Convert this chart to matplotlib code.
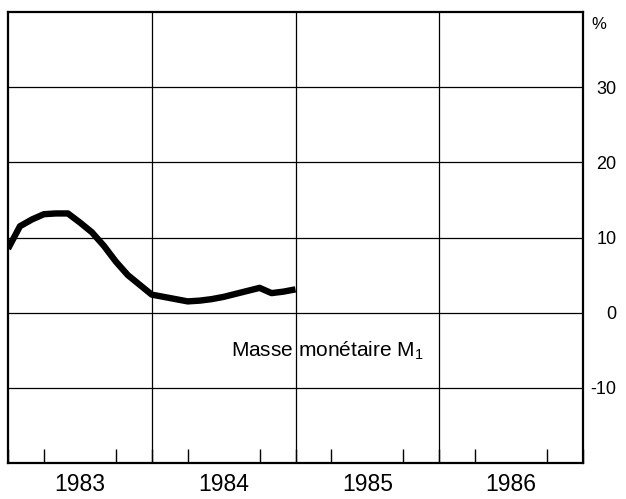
import matplotlib
matplotlib.use("Agg")
import matplotlib.pyplot as plt
import matplotlib.transforms as mtransforms
import numpy as np

plt.rcParams['font.family'] = ['Liberation Sans', 'DejaVu Sans']
plt.rcParams['mathtext.fontset'] = 'custom'
plt.rcParams['mathtext.rm'] = 'Liberation Sans'

# Data: monthly growth of money supply M1 (%), Jan 1983 .. Jan 1985
months = 1983 + np.arange(25) / 12.0
m1 = [8.5, 11.5, 12.4, 13.1, 13.2, 13.2, 12.0, 10.7, 8.9, 6.8, 5.0, 3.7,
      2.4, 2.1, 1.8, 1.5, 1.6, 1.8, 2.1, 2.5, 2.9, 3.3, 2.6, 2.8, 3.1]

years = [1983, 1984, 1985, 1986]
year_labels = ['1983', '1984', '1985', '1986']
y_ticks = [-10, 0, 10, 20, 30]
y_ticklabels = ['-10', '0', '10', '20', '30']
series_label = 'Masse monétaire M$_1$'

fig = plt.figure(figsize=(6.26, 4.99), dpi=100)
ax = fig.add_axes([8/626, 36/499, 575/626, 451/499])

ax.set_xlim(1983, 1987)
ax.set_ylim(-20, 40)

# grid lines
for yb in years[1:]:
    ax.axvline(yb, color='black', lw=0.9, zorder=1)
for yt in y_ticks:
    ax.axhline(yt, color='black', lw=0.9, zorder=1)

ax.plot(months, m1, color='black', lw=4.6, solid_joinstyle='round',
        solid_capstyle='butt', zorder=3)

ax.text(1984.55, -5, series_label, fontsize=15, ha='left', va='center',
        color='black')

# x axis: labels at year centers, quarter ticks
ax.set_xticks([y + 0.5 for y in years])
ax.set_xticklabels(year_labels, fontsize=16.5)
ax.tick_params(axis='x', which='major', length=0, pad=7)
ax.set_xticks(np.arange(1983, 1987.01, 0.25), minor=True)
ax.tick_params(axis='x', which='minor', direction='in', length=10,
               width=1.0, bottom=True, top=False)

# y axis on the right
ax.yaxis.tick_right()
ax.set_yticks(y_ticks)
ax.set_yticklabels(y_ticklabels, fontsize=13)
ax.tick_params(axis='y', which='major', length=0, pad=24)
for lab in ax.get_yticklabels():
    lab.set_horizontalalignment('right')

for sp in ax.spines.values():
    sp.set_linewidth(1.6)
    sp.set_color('black')

trans = mtransforms.blended_transform_factory(ax.transAxes, ax.transData)
ax.text(1.014, 38.4, '%', transform=trans, fontsize=12, ha='left',
        va='center')

fig.savefig('out.png', dpi=100)
